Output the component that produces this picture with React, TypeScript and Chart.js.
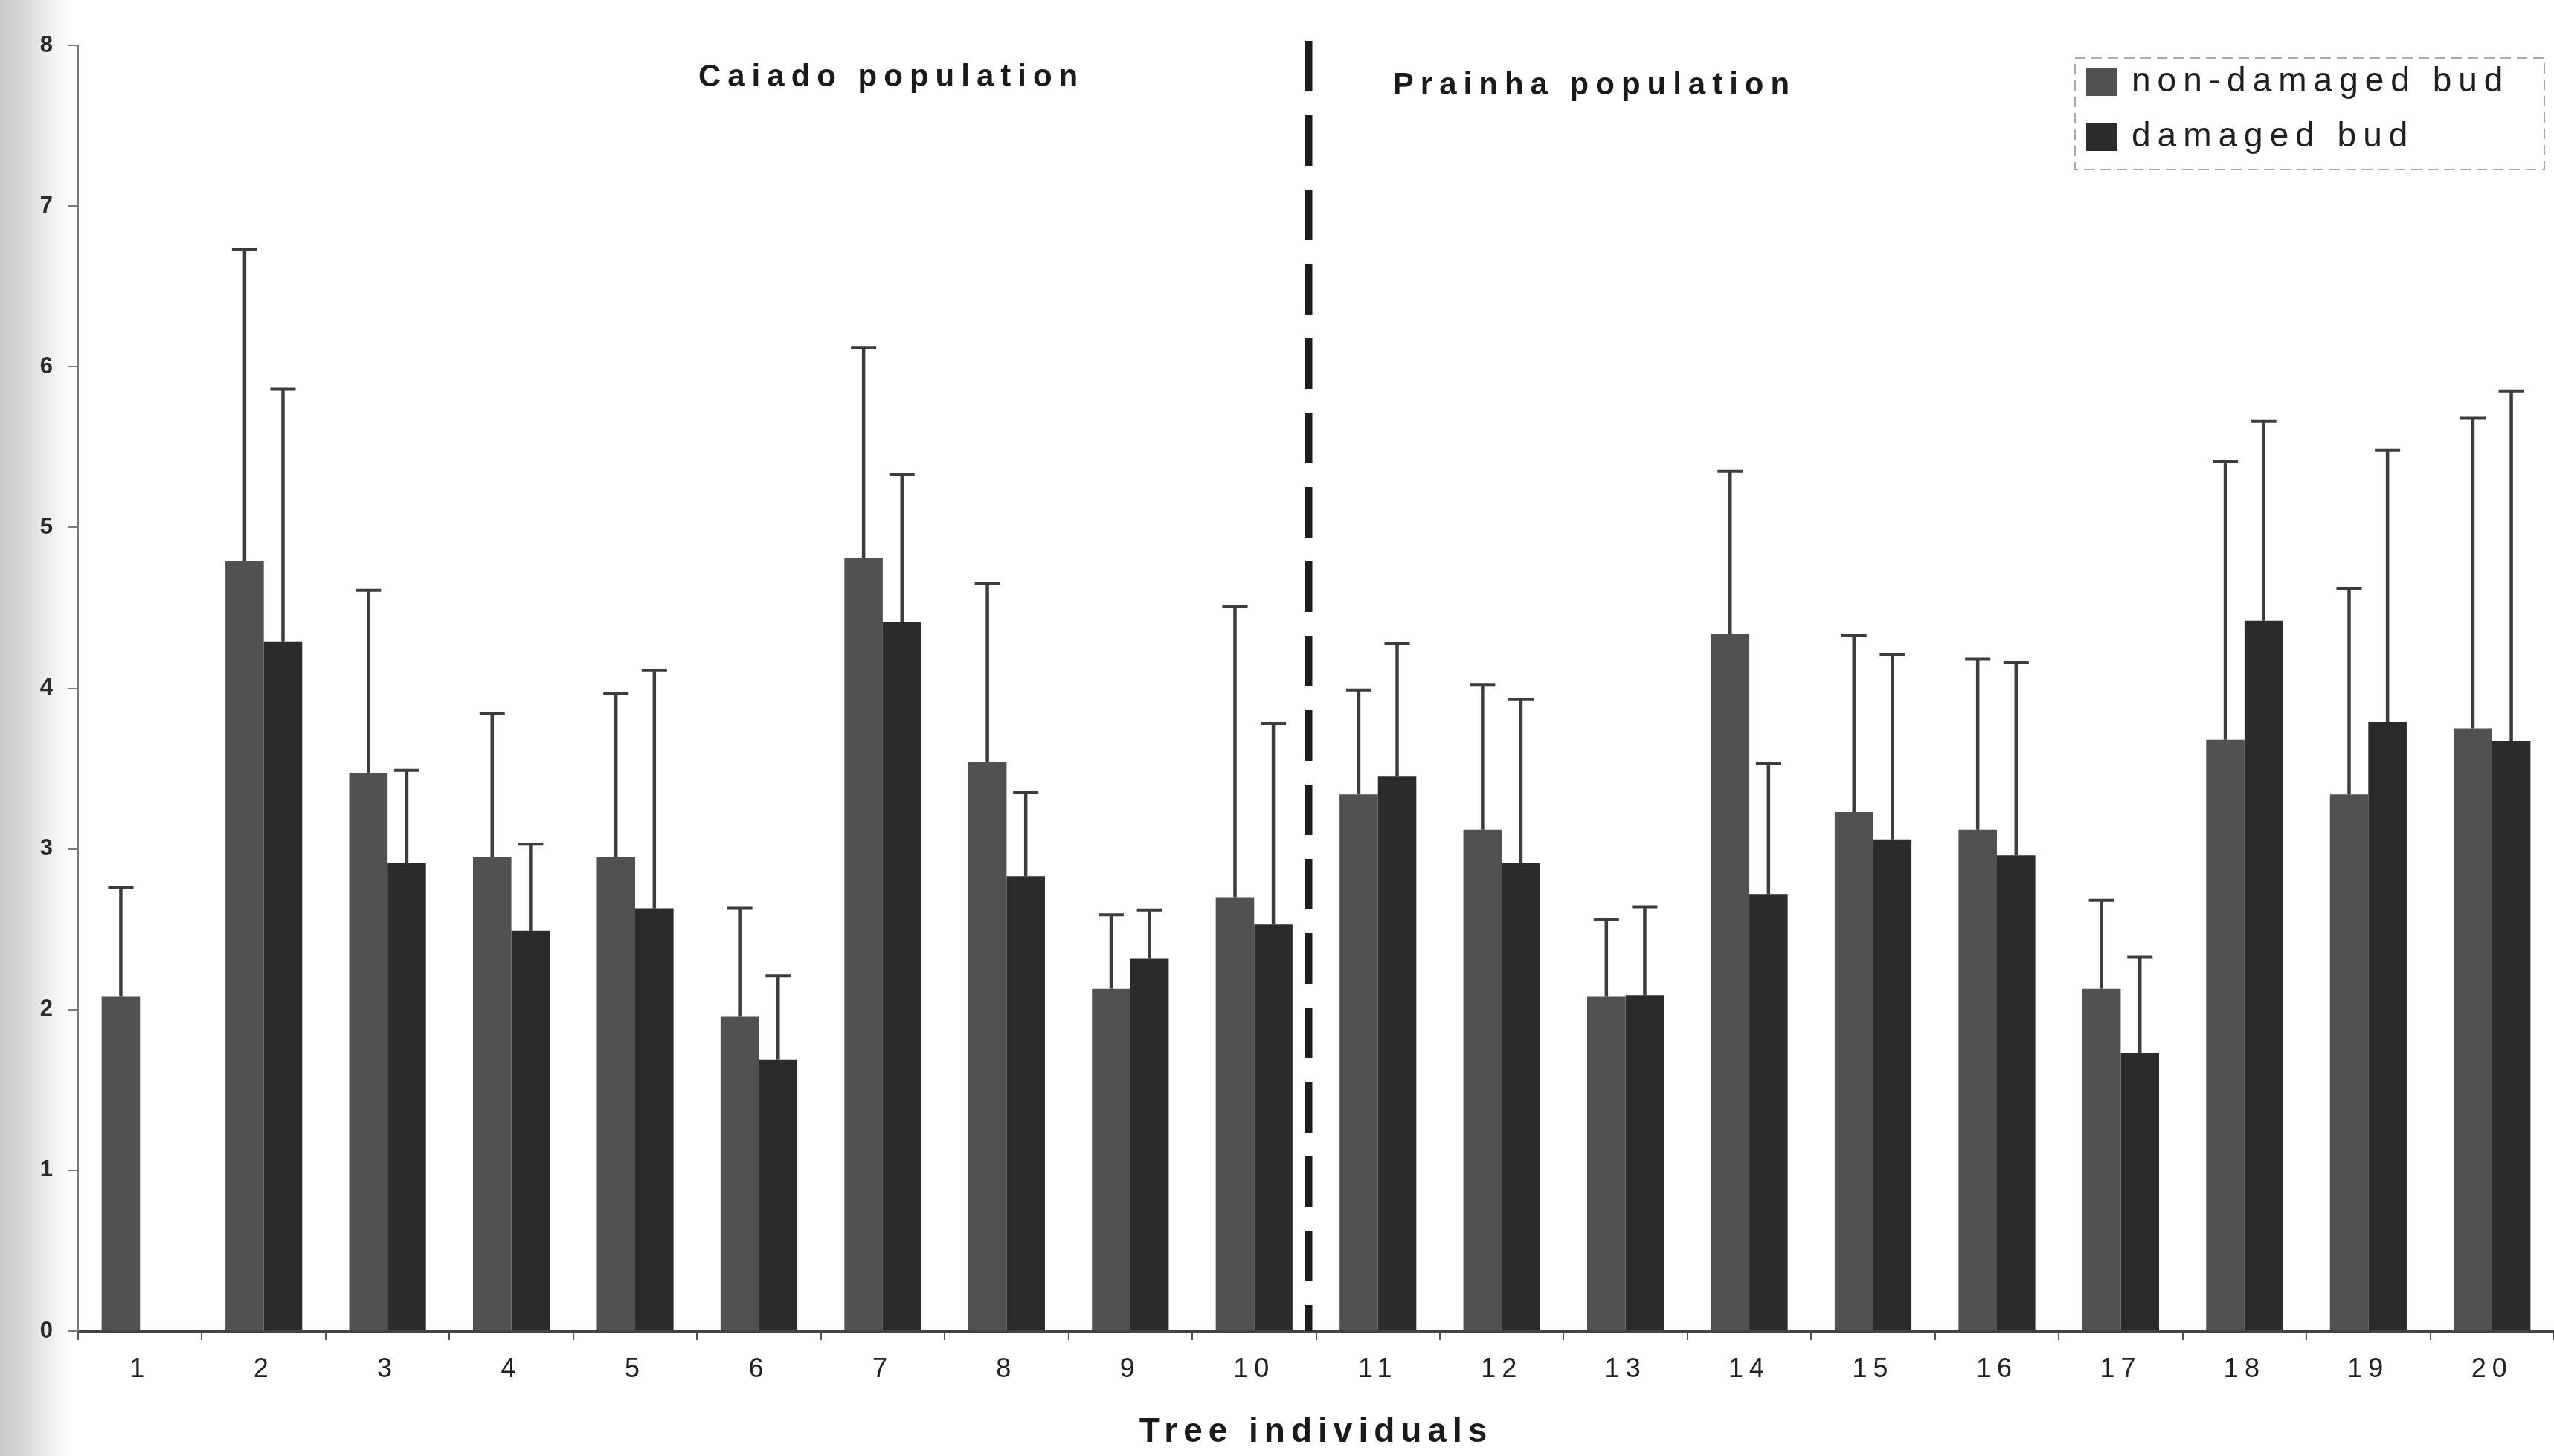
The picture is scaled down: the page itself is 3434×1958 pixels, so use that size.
import React, { useEffect, useRef } from "react";
import { Chart, registerables } from "chart.js";

Chart.register(...registerables);

// ---- data ----
const trees = ["1", "2", "3", "4", "5", "6", "7", "8", "9", "10", "11", "12", "13", "14", "15", "16", "17", "18", "19", "20"];
const seriesNames = ["non-damaged bud", "damaged bud"];
const nonDamaged = [2.08, 4.79, 3.47, 2.95, 2.95, 1.96, 4.81, 3.54, 2.13, 2.7, 3.34, 3.12, 2.08, 4.34, 3.23, 3.12, 2.13, 3.68, 3.34, 3.75];
const nonDamagedUpper = [2.76, 6.73, 4.61, 3.84, 3.97, 2.63, 6.12, 4.65, 2.59, 4.51, 3.99, 4.02, 2.56, 5.35, 4.33, 4.18, 2.68, 5.41, 4.62, 5.68];
const damaged = [0, 4.29, 2.91, 2.49, 2.63, 1.69, 4.41, 2.83, 2.32, 2.53, 3.45, 2.91, 2.09, 2.72, 3.06, 2.96, 1.73, 4.42, 3.79, 3.67];
const damagedUpper = [null, 5.86, 3.49, 3.03, 4.11, 2.21, 5.33, 3.35, 2.62, 3.78, 4.28, 3.93, 2.64, 3.53, 4.21, 4.16, 2.33, 5.66, 5.48, 5.85];
const yTicks = [0, 1, 2, 3, 4, 5, 6, 7, 8];
const populations = ["Caiado population", "Prainha population"];
const xTitle = "Tree individuals";

const W = 3434;
const H = 1958;
const FONT = "'Liberation Sans', Arial, sans-serif";
const colNon = "#515151";
const colDam = "#2b2b2b";

const errorBarPlugin = {
  id: "errorBars",
  afterDatasetsDraw(chart: any) {
    const ctx = chart.ctx;
    const yScale = chart.scales.y;
    chart.data.datasets.forEach((ds: any, i: number) => {
      const meta = chart.getDatasetMeta(i);
      meta.data.forEach((bar: any, j: number) => {
        const up = ds.errorUpper[j];
        if (up == null) return;
        const yTop = yScale.getPixelForValue(up);
        ctx.save();
        ctx.strokeStyle = "#3c3c3c";
        ctx.lineWidth = 4.5;
        ctx.beginPath();
        ctx.moveTo(bar.x, bar.y);
        ctx.lineTo(bar.x, yTop);
        ctx.stroke();
        ctx.lineWidth = 4;
        ctx.beginPath();
        ctx.moveTo(bar.x - 17, yTop);
        ctx.lineTo(bar.x + 17, yTop);
        ctx.stroke();
        ctx.restore();
      });
    });
  },
};

const spacingPlugin = {
  id: "spacing",
  beforeDraw(chart: any) {
    (chart.ctx as any).letterSpacing = "8px";
  },
  beforeDatasetsDraw(chart: any) {
    (chart.ctx as any).letterSpacing = "0px";
  },
};

const annotationsPlugin = {
  id: "annotations",
  afterDraw(chart: any) {
    const ctx = chart.ctx;
    const x = chart.scales.x;
    const y = chart.scales.y;
    const area = chart.chartArea;
    ctx.save();
    // dashed divider between the two populations
    const xDiv = (x.getPixelForValue(9) + x.getPixelForValue(10)) / 2 - 10;
    ctx.strokeStyle = "#1e1e1e";
    ctx.lineWidth = 10;
    ctx.setLineDash([68, 32]);
    ctx.beginPath();
    ctx.moveTo(xDiv, area.top - 6);
    ctx.lineTo(xDiv, area.bottom);
    ctx.stroke();
    ctx.setLineDash([]);

    // population labels
    (ctx as any).letterSpacing = "9px";
    ctx.fillStyle = "#1a1a1a";
    ctx.font = `bold 42px ${FONT}`;
    ctx.textAlign = "center";
    ctx.textBaseline = "middle";
    ctx.fillText(populations[0], x.getPixelForValue(6.07), y.getPixelForValue(7.8));
    ctx.fillText(populations[1], x.getPixelForValue(11.75), y.getPixelForValue(7.75));

    // legend
    (ctx as any).letterSpacing = "0px";
    ctx.strokeStyle = "#a8a8a8";
    ctx.lineWidth = 2;
    ctx.setLineDash([14, 8]);
    ctx.strokeRect(2790, 78, 631, 150);
    ctx.setLineDash([]);
    const items = [
      { c: colNon, label: seriesNames[0], yc: 110 },
      { c: colDam, label: seriesNames[1], yc: 184 },
    ];
    (ctx as any).letterSpacing = "9px";
    ctx.font = `46px ${FONT}`;
    ctx.textAlign = "left";
    items.forEach((it) => {
      ctx.fillStyle = it.c;
      ctx.fillRect(2805, it.yc - 19, 42, 38);
      ctx.fillStyle = "#1f1f1f";
      ctx.fillText(it.label, 2866, it.yc);
    });
    ctx.restore();
  },
};

export default function App() {
  const ref = useRef<HTMLCanvasElement>(null);
  useEffect(() => {
    if (!ref.current) return;
    const chart = new Chart(ref.current, {
      type: "bar",
      data: {
        labels: trees,
        datasets: [
          {
            label: seriesNames[0],
            data: nonDamaged,
            backgroundColor: colNon,
            borderWidth: 0,
            categoryPercentage: 0.62,
            barPercentage: 1.0,
            errorUpper: nonDamagedUpper,
          } as any,
          {
            label: seriesNames[1],
            data: damaged,
            backgroundColor: colDam,
            borderWidth: 0,
            categoryPercentage: 0.62,
            barPercentage: 1.0,
            errorUpper: damagedUpper,
          } as any,
        ],
      },
      options: {
        responsive: false,
        animation: false,
        layout: { padding: { left: 0, right: 0, top: 61, bottom: 0 } },
        plugins: {
          legend: { display: false },
          tooltip: { enabled: false },
          title: { display: false },
        },
        scales: {
          x: {
            offset: true,
            grid: {
              display: true,
              offset: true,
              drawOnChartArea: false,
              drawTicks: true,
              tickLength: 12,
              color: "#555",
              lineWidth: 2,
            },
            border: { display: true, color: "#444", width: 3 },
            ticks: {
              color: "#222",
              font: { family: FONT, size: 36 },
              padding: 18,
              maxRotation: 0,
              autoSkip: false,
            },
            title: {
              display: true,
              text: xTitle,
              color: "#1a1a1a",
              font: { family: FONT, size: 46, weight: "bold" },
              padding: { top: 0, bottom: 4 },
            },
            afterFit(scale: any) {
              scale.height = 168;
            },
          },
          y: {
            min: 0,
            max: 8,
            afterBuildTicks(scale: any) {
              scale.ticks = yTicks.map((v) => ({ value: v }));
            },
            grid: {
              display: true,
              drawOnChartArea: false,
              drawTicks: true,
              tickLength: 14,
              color: "#777",
              lineWidth: 2,
            },
            border: { display: true, color: "#777", width: 2 },
            ticks: {
              color: "#2a2a2a",
              font: { family: FONT, size: 31, weight: "bold" },
              padding: 12,
            },
            afterFit(scale: any) {
              scale.width = 105;
            },
          },
        },
      } as any,
      plugins: [spacingPlugin, errorBarPlugin, annotationsPlugin],
    });
    return () => chart.destroy();
  }, []);

  return (
    <div
      style={{
        position: "absolute",
        left: 0,
        top: 0,
        width: W,
        height: H,
        background:
          "linear-gradient(to right, #c9c9c9 0px, #d6d6d6 30px, #eeeeee 65px, #ffffff 100px)",
      }}
    >
      <canvas ref={ref} width={W} height={H} style={{ display: "block" }} />
    </div>
  );
}
